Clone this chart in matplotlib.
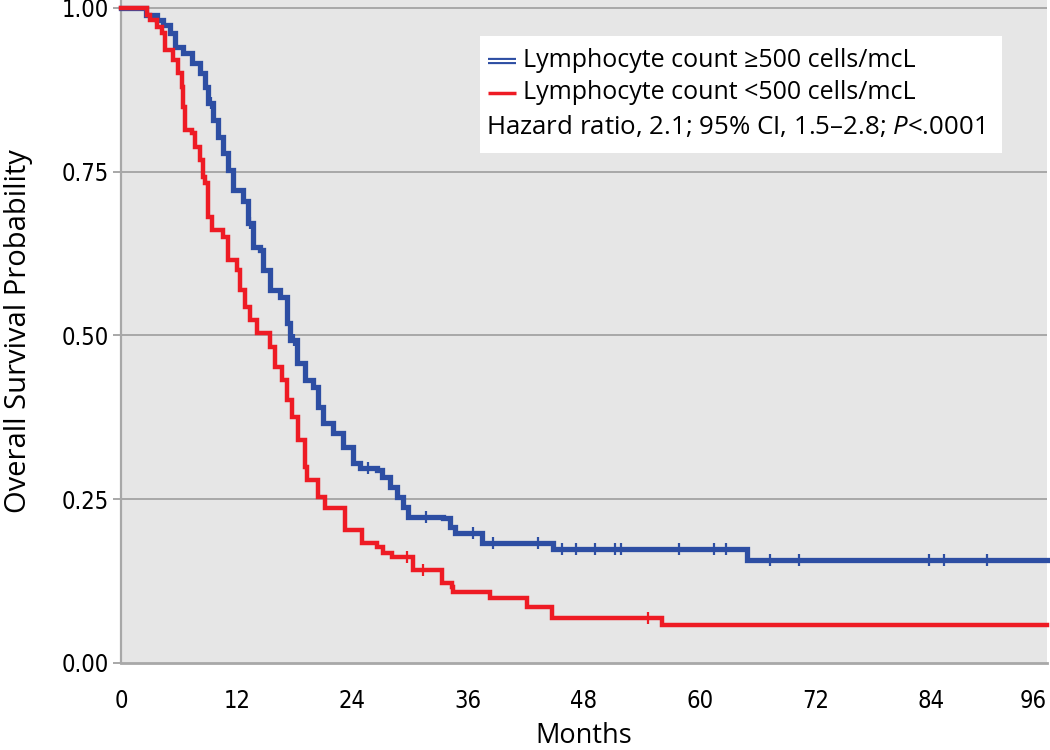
import matplotlib
matplotlib.use("Agg")
import matplotlib.pyplot as plt
import matplotlib.patches as patches
import matplotlib.patheffects as pe
import numpy as np

# Kaplan-Meier steps (months, survival)
blue_t = [0, 2.6, 3.73, 4.35, 5.08, 5.60, 6.43, 7.36, 8.19, 8.71, 9.02, 9.54, 10.06, 10.57,
          11.09, 11.61, 12.65, 13.17, 13.68, 14.41, 14.72, 15.45, 16.48, 17.21, 17.52, 18.25,
          19.08, 19.90, 20.42, 20.94, 21.98, 23.01, 24.05, 24.78, 26.54, 27.06, 27.89, 28.61,
          29.24, 29.75, 33.38, 34.11, 34.63, 37.42, 44.79, 64.90]
blue_s = [1.0, 0.990, 0.982, 0.974, 0.962, 0.940, 0.931, 0.916, 0.901, 0.879, 0.855, 0.829,
          0.803, 0.779, 0.753, 0.722, 0.706, 0.671, 0.635, 0.631, 0.600, 0.569, 0.559, 0.519,
          0.493, 0.458, 0.432, 0.421, 0.391, 0.366, 0.351, 0.330, 0.305, 0.298, 0.295, 0.284,
          0.269, 0.253, 0.238, 0.223, 0.221, 0.208, 0.198, 0.183, 0.174, 0.157]
blue_cens = [9.3, 13.4, 17.9, 25.6, 31.6, 36.5, 38.6, 43.2, 45.7, 47.2, 49.1, 51.2, 51.8,
             57.8, 61.5, 62.7, 67.3, 70.3, 83.8, 85.3, 89.8]

red_t = [0, 2.70, 3.01, 3.73, 4.25, 4.56, 5.39, 5.91, 6.32, 6.43, 6.63, 7.36, 7.67, 8.19,
         8.50, 8.71, 9.02, 9.43, 10.57, 11.09, 12.03, 12.34, 12.86, 13.37, 14.10, 15.45, 15.97,
         16.69, 17.21, 17.73, 18.35, 19.08, 19.28, 20.42, 21.15, 23.22, 24.98, 26.54, 27.16,
         28.09, 30.27, 33.28, 34.31, 34.42, 38.25, 42.09, 44.68, 56.09]
red_s = [1.0, 0.99, 0.982, 0.971, 0.962, 0.936, 0.921, 0.901, 0.879, 0.849, 0.814, 0.809,
         0.788, 0.768, 0.742, 0.733, 0.681, 0.661, 0.650, 0.615, 0.600, 0.569, 0.544, 0.524,
         0.504, 0.482, 0.452, 0.432, 0.402, 0.376, 0.340, 0.299, 0.279, 0.253, 0.237, 0.203,
         0.183, 0.177, 0.168, 0.162, 0.142, 0.122, 0.116, 0.108, 0.099, 0.085, 0.069, 0.058]
red_cens = [29.6, 31.3, 54.6]

x_ticks = [0, 12, 24, 36, 48, 60, 72, 84, 96]
y_ticks = [0.00, 0.25, 0.50, 0.75, 1.00]

BLUE = '#2d4ea3'
RED = '#ee1b24'
GRID = '#a8a8a8'

plt.rcParams['mathtext.fontset'] = 'custom'
plt.rcParams['mathtext.it'] = 'Open Sans:italic'
plt.rcParams['mathtext.rm'] = 'Open Sans'

fig = plt.figure(figsize=(10.5, 7.5), dpi=100)
ax = fig.add_axes([121 / 1050, 1 - 663 / 750, 926 / 1050, 663 / 750])
ax.set_facecolor('#e6e6e6')

ax.set_xlim(0, 96)
ax.set_ylim(0, 1.0122)


def step_value(times, surv, t):
    i = np.searchsorted(times, t, side='right') - 1
    return np.asarray(surv)[i]


for t, s, cens, col, lw in [(blue_t, blue_s, blue_cens, BLUE, 3.8),
                             (red_t, red_s, red_cens, RED, 3.2)]:
    tt = list(t) + [96]
    ss = list(s) + [s[-1]]
    ax.step(tt, ss, where='post', color=col, lw=lw, zorder=3, clip_on=False,
            solid_joinstyle='miter')
    cy = [step_value(t, s, c) for c in cens]
    ax.plot(cens, cy, linestyle='none', marker='|', markersize=9, mew=1.6,
            color=col, zorder=4)

# grid / axes
for y in y_ticks[1:]:
    ax.axhline(y, color=GRID, lw=1.4, zorder=1)
for side in ['top', 'right']:
    ax.spines[side].set_visible(False)
ax.spines['left'].set_color(GRID)
ax.spines['left'].set_linewidth(1.6)
ax.spines['bottom'].set_color(GRID)
ax.spines['bottom'].set_linewidth(2.0)

tick_kw = dict(family='DejaVu Sans', fontstretch='condensed', fontsize=17)
ax.set_xticks(x_ticks)
ax.set_xticklabels([str(v) for v in x_ticks], **tick_kw)
ax.get_xticklabels()[-1].set_horizontalalignment('right')
ax.set_yticks(y_ticks)
ax.set_yticklabels(['%.2f' % v for v in y_ticks], **tick_kw)
ax.tick_params(axis='x', length=0, pad=19)
ax.tick_params(axis='y', length=6, width=1.4, color=GRID, pad=3)

ax.set_xlabel('Months', family='Open Sans', fontsize=19.5, labelpad=6)
ax.set_ylabel('Overall Survival Probability', family='Open Sans', fontsize=21, labelpad=20)

# legend box drawn by hand
ax.add_patch(patches.Rectangle((0.388, 0.769), 0.563, 0.177, transform=ax.transAxes,
                               facecolor='white', edgecolor='none', zorder=5))
ax.plot([0.396, 0.427], [0.908, 0.908], transform=ax.transAxes, color=BLUE, lw=4.5,
        solid_capstyle='butt', zorder=6,
        path_effects=[pe.Stroke(linewidth=4.5, foreground=BLUE),
                      pe.Stroke(linewidth=1.5, foreground='white')])
ax.plot([0.396, 0.427], [0.860, 0.860], transform=ax.transAxes, color=RED, lw=2.5,
        solid_capstyle='butt', zorder=6)
leg_font = dict(family='Open Sans', fontsize=18, va='center', ha='left', zorder=7,
                transform=ax.transAxes)
ax.text(0.434, 0.908, 'Lymphocyte count \u2265500 cells/mcL', **leg_font)
ax.text(0.434, 0.860, 'Lymphocyte count <500 cells/mcL', **leg_font)
ax.text(0.394, 0.809, 'Hazard ratio, 2.1; 95% CI, 1.5\u20132.8; $\\mathit{P}$<.0001',
        **dict(leg_font, fontsize=18.6))

fig.savefig('out.png', dpi=100)
